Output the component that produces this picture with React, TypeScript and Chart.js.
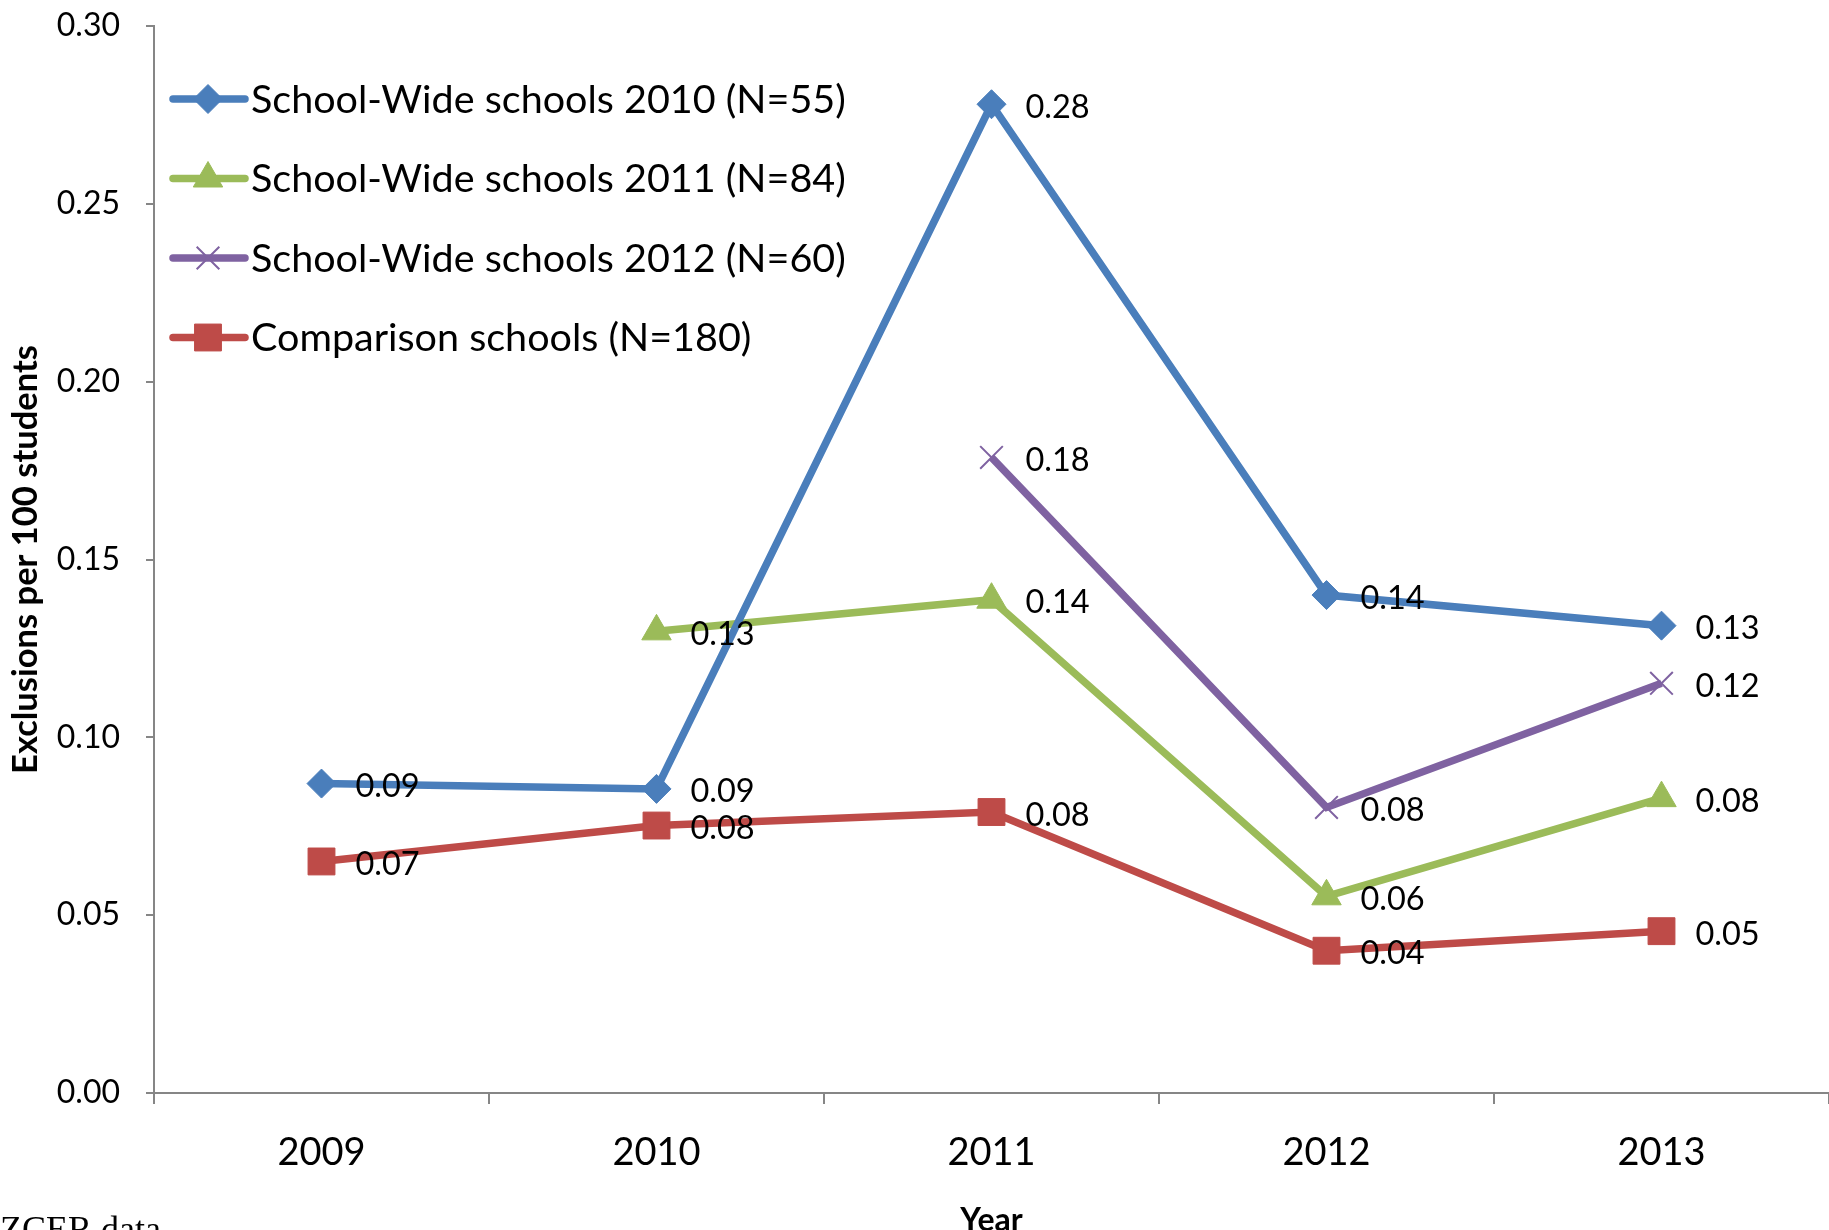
import React, { useEffect, useRef } from 'react';
import { Chart, registerables } from 'chart.js';
import { drawPoint } from 'chart.js/helpers';

Chart.register(...registerables);

// Category axis
const years = ['2009', '2010', '2011', '2012', '2013'];

// Exclusions per 100 students, by school group
const cohort2010 = [0.087, 0.0855, 0.278, 0.14, 0.1314];
const cohort2011 = [null, 0.1298, 0.1387, 0.0553, 0.0829];
const cohort2012 = [null, null, 0.1787, 0.0803, 0.1152];
const comparison = [0.0651, 0.0752, 0.079, 0.04, 0.0455];

const seriesNames = [
  'School-Wide schools 2010 (N=55)',
  'School-Wide schools 2011 (N=84)',
  'School-Wide schools 2012 (N=60)',
  'Comparison schools (N=180)',
];

const yMin = 0;
const yMax = 0.3;
const yStep = 0.05;

const FONT = 'Lato';
const AXIS_GREY = '#868686';
const BLUE = '#4A7EBB';
const GREEN = '#9BBB59';
const PURPLE = '#7F62A1';
const RED = '#BE4B48';

// Value labels drawn just to the right of each point
const valueLabels = {
  id: 'valueLabels',
  afterDatasetsDraw(chart: any) {
    const { ctx } = chart;
    ctx.save();
    ctx.font = `32.5px ${FONT}`;
    ctx.fillStyle = '#000';
    ctx.textAlign = 'left';
    ctx.textBaseline = 'middle';
    chart.data.datasets.forEach((ds: any, i: number) => {
      const meta = chart.getDatasetMeta(i);
      meta.data.forEach((pt: any, j: number) => {
        const v = ds.data[j];
        if (v == null) return;
        ctx.fillText(Number(v).toFixed(2), pt.x + 34, pt.y + 3);
      });
    });
    ctx.restore();
  },
};

// Legend inside the plot area, top-left
const insetLegend = {
  id: 'insetLegend',
  afterDraw(chart: any) {
    const { ctx, chartArea } = chart;
    const lineStart = chartArea.left + 19;
    const lineEnd = chartArea.left + 91;
    const markX = chartArea.left + 54;
    const textX = chartArea.left + 97;
    const firstRow = chartArea.top + 73;
    const rowGap = 79.5;
    ctx.save();
    chart.data.datasets.forEach((ds: any, i: number) => {
      const y = firstRow + i * rowGap;
      ctx.strokeStyle = ds.borderColor;
      ctx.lineWidth = ds.borderWidth;
      ctx.lineCap = 'round';
      ctx.beginPath();
      ctx.moveTo(lineStart, y);
      ctx.lineTo(lineEnd, y);
      ctx.stroke();
      ctx.lineCap = 'butt';
      ctx.fillStyle = ds.pointBackgroundColor;
      ctx.strokeStyle = ds.pointBorderColor;
      ctx.lineWidth = ds.pointBorderWidth;
      drawPoint(ctx, { pointStyle: ds.pointStyle, radius: ds.pointRadius, borderWidth: ds.pointBorderWidth, rotation: 0 } as any, markX, y);
      ctx.fillStyle = '#000';
      ctx.font = `39.5px ${FONT}`;
      ctx.textAlign = 'left';
      ctx.textBaseline = 'middle';
      ctx.fillText(ds.label, textX, y + 1);
    });
    ctx.restore();
  },
};

// Source note along the bottom-left edge
const sourceNote = {
  id: 'sourceNote',
  afterDraw(chart: any) {
    const { ctx } = chart;
    ctx.save();
    ctx.font = `36px "Liberation Serif"`;
    ctx.fillStyle = '#000';
    ctx.textAlign = 'left';
    ctx.textBaseline = 'alphabetic';
    const lead = ctx.measureText('N').width;
    ctx.fillText('NZCER data', -lead, 1241);
    ctx.restore();
  },
};

export default function App() {
  const ref = useRef<HTMLCanvasElement>(null);

  useEffect(() => {
    const canvas = ref.current;
    if (!canvas) return;
    const series = [
      { label: seriesNames[0], data: cohort2010, color: BLUE, style: 'rectRot', radius: 14.5, bw: 1 },
      { label: seriesNames[1], data: cohort2011, color: GREEN, style: 'triangle', radius: 17, bw: 1 },
      { label: seriesNames[2], data: cohort2012, color: PURPLE, style: 'crossRot', radius: 16, bw: 2 },
      { label: seriesNames[3], data: comparison, color: RED, style: 'rect', radius: 19, bw: 1 },
    ];
    const chart = new Chart(canvas, {
      type: 'line',
      data: {
        labels: years,
        datasets: series.map((s) => ({
          label: s.label,
          data: s.data,
          borderColor: s.color,
          backgroundColor: s.color,
          borderWidth: 7.5,
          tension: 0,
          spanGaps: false,
          pointStyle: s.style,
          pointRadius: s.radius,
          pointHoverRadius: s.radius,
          pointBackgroundColor: s.color,
          pointBorderColor: s.color,
          pointBorderWidth: s.bw,
        })) as any,
      },
      options: {
        responsive: false,
        animation: false,
        devicePixelRatio: 1,
        events: [],
        layout: { autoPadding: false, padding: { top: 26, left: 0, right: 0, bottom: 0 } },
        plugins: {
          legend: { display: false },
          tooltip: { enabled: false },
        },
        scales: {
          x: {
            type: 'category',
            offset: true,
            grid: {
              offset: true,
              drawOnChartArea: false,
              drawTicks: true,
              tickLength: 11,
              color: AXIS_GREY,
              lineWidth: 2,
            },
            border: { display: true, color: AXIS_GREY, width: 2 },
            ticks: { color: '#000', font: { family: FONT, size: 38 }, padding: 26 },
            title: {
              display: true,
              text: 'Year',
              color: '#000',
              font: { family: FONT, size: 32, weight: 'bold', lineHeight: 0.5 },
              padding: { top: 0, bottom: 1 },
            },
            afterFit: (s: any) => {
              s.height = 137;
              s.paddingLeft = 0;
              s.paddingRight = 0;
            },
          },
          y: {
            min: yMin,
            max: yMax,
            ticks: {
              stepSize: yStep,
              callback: (v: any) => Number(v).toFixed(2),
              color: '#000',
              font: { family: FONT, size: 32 },
              padding: 26,
            },
            grid: {
              drawOnChartArea: false,
              drawTicks: true,
              tickLength: 8,
              color: AXIS_GREY,
              lineWidth: 2,
            },
            border: { display: true, color: AXIS_GREY, width: 2 },
            title: {
              display: true,
              text: 'Exclusions per 100 students',
              color: '#000',
              font: { family: FONT, size: 34.5, weight: 'bold' },
              padding: { top: 5, bottom: 0 },
            },
            afterFit: (s: any) => {
              s.width = 154;
              s.paddingTop = 0;
              s.paddingBottom = 0;
            },
          },
        } as any,
      },
      plugins: [valueLabels, insetLegend, sourceNote],
    });
    return () => chart.destroy();
  }, []);

  return (
    <div style={{ position: 'fixed', left: 0, top: 0, width: 1829, height: 1230, background: '#fff' }}>
      <canvas ref={ref} width={1829} height={1230} style={{ display: 'block', width: 1829, height: 1230 }} />
    </div>
  );
}
